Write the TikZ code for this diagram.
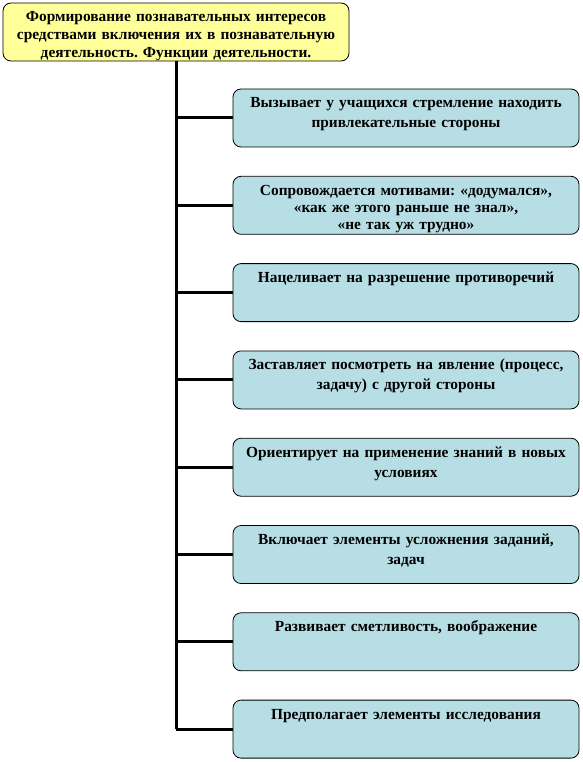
\documentclass[tikz,border=0pt]{standalone}
\usepackage{fontspec}
\setmainfont{Liberation Serif}
\usetikzlibrary{shapes,backgrounds}
\frenchspacing

\definecolor{headyellow}{RGB}{255,255,153}
\definecolor{itemblue}{RGB}{183,222,228}

\begin{document}
\begin{tikzpicture}[x=1pt,y=1pt,line width=0.8pt]
    \tikzstyle{head-box}=[rectangle,rounded corners=8pt,draw=black,fill=headyellow,
    minimum width=346pt,minimum height=58pt,inner sep=0pt]
    \tikzstyle{item-box}=[rectangle,rounded corners=8pt,draw=black,fill=itemblue,
    minimum width=346pt,minimum height=58pt,inner sep=0pt]
    \tikzstyle{box-text}=[anchor=north,inner sep=0pt,text width=342pt,align=center,
    font=\bfseries\fontsize{15.4}{20}\selectfont,execute at begin node={\rule{0pt}{19pt}}]
    \tikzstyle{trunk}=[line width=3pt]

    \useasboundingbox (0,0) rectangle (582,-762);

    \node [head-box] (head) at (176,-32) {};
    \node [box-text,font=\bfseries\fontsize{15.4}{18}\selectfont] (head-text) at (head.north)
      {Формирование познавательных интересов\\ средствами включения их в познавательную\\ деятельность. Функции деятельности.};

    \node [item-box] (f1) at (406,-118) {};
    \node [item-box] (f2) at (406,-205.3) {};
    \node [item-box] (f3) at (406,-292.6) {};
    \node [item-box] (f4) at (406,-379.9) {};
    \node [item-box] (f5) at (406,-467.2) {};
    \node [item-box] (f6) at (406,-554.5) {};
    \node [item-box] (f7) at (406,-641.8) {};
    \node [item-box] (f8) at (406,-729.1) {};

    \node [box-text] (f1-text) at (f1.north)
      {Вызывает у учащихся стремление находить\\ привлекательные стороны};
    \node [box-text,font=\bfseries\fontsize{15.4}{17}\selectfont] (f2-text) at (f2.north)
      {Сопровождается мотивами: «додумался»,\\ «как же этого раньше не знал»,\\ «не так уж трудно»};
    \node [box-text] (f3-text) at (f3.north)
      {Нацеливает на разрешение противоречий};
    \node [box-text] (f4-text) at (f4.north)
      {Заставляет посмотреть на явление (процесс,\\ задачу) с другой стороны};
    \node [box-text] (f5-text) at (f5.north)
      {Ориентирует на применение знаний в новых\\ условиях};
    \node [box-text] (f6-text) at (f6.north)
      {Включает элементы усложнения заданий,\\ задач};
    \node [box-text] (f7-text) at (f7.north)
      {Развивает сметливость, воображение};
    \node [box-text] (f8-text) at (f8.north)
      {Предполагает элементы исследования};

    \coordinate (trunk-end) at (f8.west -| head.south);

    \draw [trunk] (head.south) -- (trunk-end);
    \foreach \f in {f1,f2,f3,f4,f5,f6,f7,f8}
      \draw [trunk] (\f.west -| head.south) -- (\f.west);

\end{tikzpicture}
\end{document}
